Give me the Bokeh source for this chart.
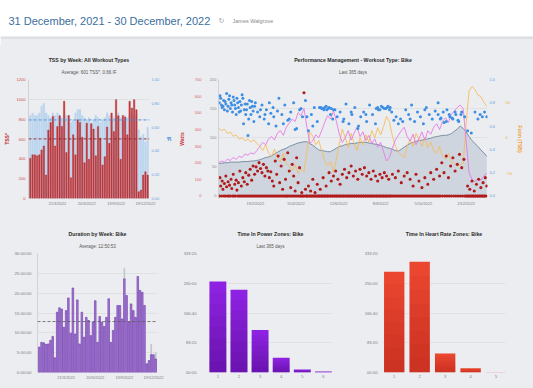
from bokeh.plotting import figure
from bokeh.layouts import column, row
from bokeh.models import Range1d, LinearAxis, FixedTicker, Title, Span, NumeralTickFormatter
from bokeh.embed import file_html
from bokeh.resources import INLINE
from bokeh.core.properties import value

FONT = "Liberation Sans"
BG = "#ecedf0"
GRID = "#dcdde0"
AXIS = "#c9cacd"
TICKTXT = "#7c7c7c"

# ---------------- header ----------------
header_title = "31 December, 2021 - 30 December, 2022"
header_user = "James Walgrove"

# ---------------- TSS by week ----------------
week_idx = list(range(53))
week_tick_idx = [12, 25, 38, 51]
week_tick_labels = ["21/3/2022", "20/6/2022", "19/9/2022", "19/12/2022"]
tss = [405, 440, 440, 430, 440, 490, 530, 236, 690, 767,
       828, 530, 726, 834, 726, 980, 463, 838, 210, 642,
       440, 794, 767, 618, 361, 760, 395, 753, 700, 430,
       726, 608, 338, 422, 720, 557, 861, 676, 997, 834,
       395, 838, 821, 642, 980, 912, 997, 895, 68, 85,
       236, 270, 236]
intensity = [0.70, 0.72, 0.70, 0.70, 0.72, 0.78, 0.80, 0.72, 0.70, 0.68,
             0.72, 0.70, 0.72, 0.70, 0.68, 0.72, 0.70, 0.68, 0.64, 0.66,
             0.72, 0.75, 0.75, 0.70, 0.68, 0.66, 0.68, 0.64, 0.66, 0.70,
             0.68, 0.64, 0.66, 0.68, 0.72, 0.70, 0.66, 0.68, 0.70, 0.72,
             0.68, 0.66, 0.70, 0.68, 0.70, 0.72, 0.70, 0.70, 0.58, 0.52,
             0.54, 0.48, 0.60]
tss_avg = 601
if_avg = 0.66
tss_ticks = [0, 200, 400, 600, 800, 1000, 1200]
if_ticks = [0, 0.2, 0.4, 0.6, 0.8, 1.0]

# ---------------- Performance management ----------------
pmc_days = list(range(0, 365, 4))
ctl = [56, 56, 57, 57, 58, 58, 58, 58, 59, 59,
       59, 60, 60, 61, 62, 64, 66, 67, 69, 72,
       75, 78, 80, 82, 85, 87, 89, 91, 92, 93,
       93, 90, 87, 83, 79, 78, 77, 76, 76, 79,
       82, 85, 86, 88, 89, 90, 90, 91, 92, 92,
       92, 91, 90, 89, 88, 87, 85, 83, 82, 80,
       78, 77, 80, 84, 87, 90, 92, 94, 95, 96,
       97, 98, 99, 101, 102, 103, 104, 104, 105, 107,
       111, 115, 120, 116, 110, 102, 95, 90, 85, 79,
       74, 68]
atl = [57, 60, 58, 63, 61, 66, 63, 68, 66, 72,
       70, 74, 72, 78, 85, 92, 88, 98, 102, 96,
       108, 112, 104, 118, 125, 132, 128, 143, 138, 150,
       118, 90, 95, 105, 100, 112, 126, 138, 132, 146,
       128, 106, 92, 100, 112, 96, 108, 118, 102, 110,
       95, 104, 90, 98, 84, 92, 76, 60, 66, 82,
       96, 104, 112, 118, 102, 94, 106, 88, 98, 110,
       96, 112, 106, 118, 124, 114, 128, 134, 126, 140,
       146, 152, 156, 150, 95, 40, 28, 24, 30, 27,
       34, 39]
tsb = [14, 10, 12, 6, 8, 2, 4, -2, 0, -4,
       -2, -6, -3, -8, -12, -18, -10, -22, -26, -16,
       -30, -34, -22, -36, -40, -46, -38, -50, -44, -48,
       -20, 8, 2, -10, -4, -18, -32, -40, -34, -48,
       -30, -8, 12, 0, -14, 6, -8, -18, 0, -10,
       4, -6, 10, 0, 14, 4, 16, 30, 22, 2,
       -12, -20, -24, -28, -12, -2, -12, 6, -2, -12,
       0, -14, -6, -18, -22, -12, -26, -30, -22, -34,
       -36, -40, -38, -36, 20, 66, 72, 68, 60, 58,
       50, 44]
if_days = [1, 2, 4, 5, 7, 8, 10, 11, 13, 14,
           16, 17, 19, 20, 22, 24, 25, 27, 29, 30,
           32, 34, 36, 38, 40, 42, 44, 46, 48, 50,
           53, 56, 59, 62, 65, 68, 71, 74, 78, 82,
           86, 90, 94, 98, 102, 106, 110, 114, 118, 122,
           126, 130, 134, 137, 140, 143, 146, 149, 152, 155,
           158, 161, 165, 169, 173, 177, 181, 185, 189, 193,
           197, 201, 205, 209, 213, 217, 221, 225, 229, 232,
           235, 238, 241, 244, 247, 250, 254, 258, 262, 266,
           270, 274, 278, 282, 286, 290, 294, 298, 302, 306,
           310, 314, 318, 322, 326, 330, 334, 338, 343, 348,
           352, 355, 358, 361, 364,
           3, 6, 9, 12, 15, 18, 21, 23, 26, 28,
           31, 33, 35, 37, 39, 41, 43, 45, 47, 49,
           139, 141, 144, 147, 150, 153, 156, 214, 216, 219,
           223, 227, 230, 233, 298, 301, 305, 309, 313, 317,
           321, 325, 329, 57, 63, 69, 75, 80, 88, 96,
           104, 112, 120, 128, 170, 180, 190, 200, 260, 280]
if_values = [0.80, 0.86, 0.78, 0.76, 0.82, 0.74, 0.79, 0.88, 0.77, 0.83,
             0.75, 0.80, 0.72, 0.85, 0.78, 0.70, 0.84, 0.76, 0.81, 0.73,
             0.87, 0.62, 0.79, 0.74, 0.52, 0.82, 0.70, 0.77, 0.64, 0.80,
             0.72, 0.68, 0.78, 0.66, 0.74, 0.62, 0.71, 0.76, 0.60, 0.84,
             0.70, 0.78, 0.65, 0.72, 0.80, 0.58, 0.74, 0.68, 0.82, 0.56,
             0.70, 0.76, 0.64, 0.76, 0.75, 0.74, 0.77, 0.75, 0.70, 0.66,
             0.74, 0.68, 0.72, 0.64, 0.79, 0.62, 0.70, 0.76, 0.58, 0.68,
             0.72, 0.64, 0.78, 0.70, 0.62, 0.74, 0.77, 0.75, 0.76, 0.74,
             0.72, 0.65, 0.68, 0.62, 0.66, 0.64, 0.74, 0.70, 0.78, 0.64,
             0.72, 0.68, 0.62, 0.76, 0.70, 0.66, 0.73, 0.80, 0.67, 0.63,
             0.74, 0.68, 0.66, 0.70, 0.64, 0.72, 0.68, 0.56, 0.54, 0.72,
             0.66, 0.70, 0.68, 0.72, 0.68,
             0.84, 0.77, 0.81, 0.73, 0.86, 0.78, 0.82, 0.75, 0.80, 0.72,
             0.78, 0.84, 0.74, 0.70, 0.79, 0.66, 0.76, 0.81, 0.73, 0.77,
             0.76, 0.75, 0.76, 0.74, 0.76, 0.75, 0.74, 0.75, 0.76, 0.74,
             0.76, 0.75, 0.77, 0.76, 0.70, 0.66, 0.72, 0.64, 0.70, 0.67,
             0.72, 0.65, 0.70, 0.74, 0.70, 0.80, 0.68, 0.73, 0.62, 0.66,
             0.57, 0.75, 0.68, 0.60, 0.66, 0.72, 0.60, 0.70, 0.66, 0.74]
watt_days = [2, 3, 5, 6, 8, 10, 11, 13, 15, 17,
             18, 20, 22, 24, 25, 27, 29, 31, 33, 35,
             37, 39, 41, 43, 45, 47, 49, 51, 53, 55,
             57, 59, 61, 63, 65, 67, 69, 71, 73, 75,
             77, 79, 81, 83, 85, 87, 89, 91, 94, 96,
             98, 100, 102, 104, 106, 108, 110, 113, 116, 118,
             122, 125, 128, 131, 134, 138, 142, 146, 150, 153,
             156, 159, 162, 165, 168, 171, 174, 177, 180, 183,
             186, 189, 192, 195, 198, 201, 204, 207, 210, 213,
             216, 219, 222, 225, 228, 231, 236, 240, 244, 248,
             252, 256, 260, 264, 268, 272, 276, 280, 284, 288,
             292, 296, 300, 303, 306, 309, 312, 315, 318, 321,
             324, 327, 330, 333, 338, 341, 344, 347, 350, 353,
             356, 359, 362, 364]
watt_values = [110, 60, 90, 40, 75, 120, 55, 85, 65, 100,
               45, 130, 70, 95, 35, 80, 150, 60, 110, 85,
               140, 70, 125, 160, 95, 180, 130, 175, 150, 200,
               165, 140, 190, 120, 170, 150, 110, 145, 90, 60,
               210, 130, 240, 80, 180, 40, 220, 100, 260, 150,
               50, 190, 120, 30, 230, 80, 170, 20, 620, 40,
               60, 30, 100, 20, 70, 40, 110, 60, 140, 90,
               120, 150, 100, 70, 130, 160, 110, 140, 180, 120,
               150, 100, 160, 130, 170, 120, 140, 100, 150, 120,
               90, 130, 110, 140, 120, 100, 130, 110, 150, 80,
               120, 140, 100, 60, 130, 90, 50, 110, 70, 140,
               100, 160, 120, 200, 140, 240, 110, 180, 230, 150,
               190, 250, 170, 220, 60, 40, 90, 30, 70, 100,
               50, 80, 110, 60]
rest_days = [0, 1, 4, 7, 9, 12, 14, 16, 19, 21,
             23, 26, 28, 30, 32, 34, 36, 38, 40, 42,
             44, 46, 48, 50, 52, 54, 56, 58, 60, 62,
             64, 66, 68, 70, 72, 74, 76, 78, 80, 82,
             84, 86, 88, 90, 92, 93, 95, 97, 99, 101,
             103, 105, 107, 109, 111, 112, 114, 115, 117, 119,
             120, 121, 123, 124, 126, 127, 129, 130, 132, 133,
             135, 136, 137, 139, 140, 141, 143, 144, 145, 147,
             148, 149, 151, 152, 154, 155, 157, 158, 160, 161,
             163, 164, 166, 167, 169, 170, 172, 173, 175, 176,
             178, 179, 181, 182, 184, 185, 187, 188, 190, 191,
             193, 194, 196, 197, 199, 200, 202, 203, 205, 206,
             208, 209, 211, 212, 214, 215, 217, 218, 220, 221,
             223, 224, 226, 227, 229, 230, 232, 233, 235, 237,
             239, 241, 243, 245, 247, 249, 251, 253, 255, 257,
             259, 261, 263, 265, 267, 269, 271, 273, 275, 277,
             279, 281, 283, 285, 287, 289, 291, 293, 295, 297,
             299, 301, 304, 307, 310, 313, 316, 319, 322, 325,
             328, 331, 334, 336, 337, 339, 340, 342, 343, 345,
             346, 348, 349, 351, 352, 354, 355, 357, 358, 360,
             361, 363]
rest_watts = [0] * len(rest_days)
pmc_tick_days = [50, 105, 163, 220, 278, 336]
pmc_tick_labels = ["19/2/2022", "15/4/2022", "12/6/2022", "8/8/2022", "5/10/2022", "2/12/2022"]

# ---------------- Duration by week ----------------
duration_h = [6.4, 7.6, 7.5, 7.1, 7.2, 8.1, 9.1, 3.7, 15.2, 16.3,
              16.0, 11.4, 15.6, 18.8, 9.9, 21.3, 9.7, 18.3, 7.2, 15.2,
              8.9, 13.9, 13.1, 9.3, 12.7, 18.1, 7.6, 14.1, 12.7, 11.6,
              13.9, 18.6, 7.6, 10.6, 13.9, 16.9, 16.9, 13.5, 23.6, 19.4,
              12.7, 17.3, 15.6, 13.9, 24.2, 20.7, 20.2, 16.9, 2.2, 3.0,
              4.5, 4.5, 3.4]
duration_extra_h = [0, 0, 0, 0, 0, 0, 0, 0, 0, 0,
                    0, 0, 0, 0, 0, 0, 0, 0, 0, 0,
                    0, 0, 0, 0, 0, 0, 0, 0, 0, 0,
                    0, 0, 0, 0, 0, 0, 0, 0, 2.8, 0,
                    0, 0, 0, 0, 0, 0, 0, 0, 0, 0,
                    2.7, 0, 1.7]
duration_avg_h = 12.848
duration_ticks = [0, 5, 10, 15, 20, 25, 30]
duration_labels = ["0:00:00", "5:00:00", "10:00:00", "15:00:00", "20:00:00", "25:00:00", "30:00:00"]

# ---------------- Zones ----------------
power_zones = [1, 2, 3, 4, 5, 6]
power_minutes = [15300, 13920, 7140, 2460, 510, 180]
hr_zones = [1, 2, 3, 4, 5]
hr_minutes = [16920, 18600, 3180, 720, 30]
zone_ticks = [0, 5000, 10000, 15000, 20000]
zone_labels = ["00:00", "83:20", "166:40", "250:00", "333:20"]


def style_axis(ax, color=TICKTXT, size="4px", line=AXIS, title_color=None, standoff=3,
               title_standoff=3):
    ax.major_label_text_font = FONT
    ax.major_label_text_font_size = size
    ax.major_label_text_color = color
    ax.axis_line_color = line
    ax.axis_line_width = 0.8
    ax.major_tick_line_color = None
    ax.minor_tick_line_color = None
    ax.major_tick_out = 0
    ax.major_tick_in = 0
    ax.minor_tick_out = 0
    ax.minor_tick_in = 0
    ax.major_label_standoff = standoff
    ax.axis_label_text_font = FONT
    ax.axis_label_text_font_size = "5px"
    ax.axis_label_text_font_style = "bold"
    ax.axis_label_standoff = title_standoff
    ax.axis_label_text_color = title_color or color


def panel(w, h, xr, yr, left, right, top, bottom, main, sub=None, main_standoff=2):
    p = figure(width=w, height=h, x_range=xr, y_range=yr, output_backend="svg",
               toolbar_location=None, min_border_left=left, min_border_right=right,
               min_border_top=top, min_border_bottom=bottom, title=main)
    p.styles = {"background-color": BG}
    p.background_fill_color = BG
    p.border_fill_color = BG
    p.outline_line_color = None
    p.xgrid.grid_line_color = None
    p.ygrid.grid_line_color = GRID
    p.ygrid.grid_line_width = 0.8
    p.title.align = "center"
    p.title.text_font = FONT
    p.title.text_font_size = "5.2px"
    p.title.text_font_style = "bold"
    p.title.text_color = "#2a2a2a"
    p.title.standoff = main_standoff
    if sub is not None:
        p.add_layout(Title(text=sub, align="center", text_font=FONT, text_font_size="4.5px",
                           text_font_style="normal", text_color="#555555", standoff=8.5), "above")
    style_axis(p.xaxis[0], line=None, standoff=2)
    style_axis(p.yaxis[0])
    return p


# ---------------- header figure ----------------
hd = figure(width=533, height=45, x_range=Range1d(0, 533), y_range=Range1d(0, 45),
            output_backend="svg", toolbar_location=None, min_border=0,
            x_axis_type=None, y_axis_type=None)
hd.styles = {"background-color": "white"}
hd.grid.visible = False
hd.outline_line_color = None
hd.background_fill_color = "white"
hd.border_fill_color = "white"
hd.quad(left=[0], right=[533], bottom=[0], top=[9], fill_color=BG, line_color=None)
hd.quad(left=[0], right=[533], bottom=[6.5], top=[9], fill_color="#dedfe1", line_color=None)
hd.text(x=[8], y=[25], text=[header_title], text_font=value(FONT), text_font_size="11px",
        text_color="#3b6e9e", text_baseline="middle")
hd.text(x=[218], y=[25], text=["\u21bb"], text_font=value("DejaVu Sans"), text_font_size="7px",
        text_color="#9a9a9a", text_baseline="middle")
hd.text(x=[232], y=[25], text=[header_user], text_font=value(FONT), text_font_size="5.5px",
        text_color="#8a8a8a", text_baseline="middle")

# ---------------- panel 1: TSS by week ----------------
p1 = panel(175, 170, Range1d(-0.8, 52.8), Range1d(0, 1200), 27, 23, 34, 17,
           "TSS by Week: All Workout Types", "Average: %d TSS*, %.2f IF" % (tss_avg, if_avg))
p1.extra_y_ranges = {"if": Range1d(0, 1)}
p1.vbar(x=week_idx, top=intensity, width=0.92, y_range_name="if",
        fill_color="#bcd5ef", line_color=None)
p1.vbar(x=week_idx, top=tss, width=0.62, fill_color="#cb3a3e", line_color="#a8282c", line_width=0.4)
p1.add_layout(Span(location=tss_avg, dimension="width", line_color="#8e2426",
                   line_dash="3 2", line_width=0.9))
p1.add_layout(Span(location=if_avg, dimension="width", y_range_name="if",
                   line_color="#4a8fd8", line_dash="3 2", line_width=0.9))
p1.yaxis[0].ticker = FixedTicker(ticks=tss_ticks)
p1.yaxis[0].axis_label = "TSS*"
style_axis(p1.yaxis[0], color="#d04848", title_color="#c0282c", standoff=3, title_standoff=4)
ax_if = LinearAxis(y_range_name="if", ticker=FixedTicker(ticks=if_ticks),
                   formatter=NumeralTickFormatter(format="0.00"), axis_label="IF")
style_axis(ax_if, color="#6aa3e0", line=None, title_color="#3f87d6", standoff=2, title_standoff=4)
p1.add_layout(ax_if, "right")
p1.xaxis[0].ticker = FixedTicker(ticks=week_tick_idx)
p1.xaxis[0].major_label_overrides = dict(zip(week_tick_idx, week_tick_labels))

# ---------------- panel 2: performance management ----------------
p2 = panel(358, 170, Range1d(0, 365), Range1d(-4.4, 200), 38, 46, 34, 17,
           "Performance Management - Workout Type: Bike", "Last 365 days")
p2.extra_y_ranges = {"watts": Range1d(-15.4, 700), "if": Range1d(-0.022, 1),
                     "tsb": Range1d(-85.6, 82)}
p2.varea(x=pmc_days, y1=0, y2=ctl, fill_color="#ccd4dd", fill_alpha=0.95)
p2.line(pmc_days, ctl, line_color="#6f879e", line_width=0.9)
p2.line(pmc_days, tsb, y_range_name="tsb", line_color="#f5bd5c", line_width=0.9)
p2.line(pmc_days, atl, line_color="#e77ae6", line_width=0.9)
p2.scatter(if_days, if_values, y_range_name="if", size=3.0, fill_color="#3d8ee4",
           line_color=None)
p2.scatter(rest_days, rest_watts, y_range_name="watts", size=3.0, fill_color="#b01b1b",
           line_color=None)
p2.scatter(watt_days, watt_values, y_range_name="watts", size=3.1, fill_color="#b01b1b",
           line_color=None)
p2.yaxis[0].ticker = FixedTicker(ticks=[0, 50, 100, 150, 200])
style_axis(p2.yaxis[0], color="#8a8a8a", standoff=2)
ax_w = LinearAxis(y_range_name="watts", ticker=FixedTicker(ticks=[0, 100, 200, 300, 400, 500, 600, 700]),
                  axis_label="Watts")
style_axis(ax_w, color="#dd5a5a", line=None, title_color="#c83232", standoff=5, title_standoff=7)
p2.add_layout(ax_w, "left")
ax_if2 = LinearAxis(y_range_name="if", ticker=FixedTicker(ticks=if_ticks),
                    formatter=NumeralTickFormatter(format="0.0"))
style_axis(ax_if2, color="#5f9ddf", line=None, standoff=2)
p2.add_layout(ax_if2, "right")
ax_tsb = LinearAxis(y_range_name="tsb", ticker=FixedTicker(ticks=[-50, 0, 50]),
                    axis_label="Form (TSB)")
style_axis(ax_tsb, color="#f0ad4e", line=None, title_color="#eea23a", standoff=7, title_standoff=2)
p2.add_layout(ax_tsb, "right")
p2.xaxis[0].ticker = FixedTicker(ticks=pmc_tick_days)
p2.xaxis[0].major_label_overrides = dict(zip(pmc_tick_days, pmc_tick_labels))

# ---------------- panel 3: duration by week ----------------
p3 = panel(175, 173, Range1d(-0.8, 52.8), Range1d(0, 30), 37, 18, 38, 16,
           "Duration by Week: Bike", "Average: 12:50:53")
p3.vbar(x=week_idx, bottom=duration_h, top=[d + e for d, e in zip(duration_h, duration_extra_h)],
        width=0.72, fill_color="#c6c6ca", line_color=None)
p3.vbar(x=week_idx, top=duration_h, width=0.72, fill_color="#a67ad8", line_color="#6a34a6",
        line_width=0.6)
p3.add_layout(Span(location=duration_avg_h, dimension="width", line_color="#5a5a5a",
                   line_dash="3 2", line_width=0.8))
p3.yaxis[0].ticker = FixedTicker(ticks=duration_ticks)
p3.yaxis[0].major_label_overrides = dict(zip(duration_ticks, duration_labels))
p3.yaxis[0].major_label_text_font_size = "4.4px"
p3.yaxis[0].major_label_standoff = 6
p3.xaxis[0].ticker = FixedTicker(ticks=week_tick_idx)
p3.xaxis[0].major_label_overrides = dict(zip(week_tick_idx, week_tick_labels))


def zone_panel(w, xr, left, right, main, sub, zones, minutes, color, shade, step_alpha,
               standoff, label_standoff):
    p = panel(w, 173, xr, Range1d(0, 20000), left, right, 38, 16, main, sub, standoff)
    p.vbar(x=zones, top=minutes, width=0.8, fill_color=color, line_color=None)
    for k in range(1, 8):
        p.vbar(x=zones, top=[m * k / 8 for m in minutes], width=0.8, fill_color=shade,
               fill_alpha=step_alpha, line_color=None)
    p.yaxis[0].ticker = FixedTicker(ticks=zone_ticks)
    p.yaxis[0].major_label_overrides = dict(zip(zone_ticks, zone_labels))
    p.yaxis[0].major_label_text_font_size = "4.2px"
    p.yaxis[0].major_label_standoff = label_standoff
    p.yaxis[0].axis_line_color = None
    p.xaxis[0].ticker = FixedTicker(ticks=zones)
    return p


p4 = zone_panel(175, Range1d(0.556, 6.43), 33, 18, "Time In Power Zones: Bike", "Last 365 days",
                power_zones, power_minutes, "#8e22e2", "#2a0050", 0.05, 1, 12)
p5 = zone_panel(183, Range1d(0.54, 5.37), 32, 28, "Time In Heart Rate Zones: Bike", " ",
                hr_zones, hr_minutes, "#ea4630", "#7a0a00", 0.035, 1, 5)

layout = column(hd, row(p1, p2, styles={"background-color": BG}),
                row(p3, p4, p5, styles={"background-color": BG}),
                styles={"background-color": BG})
open("out.html", "w").write(file_html(layout, INLINE))
